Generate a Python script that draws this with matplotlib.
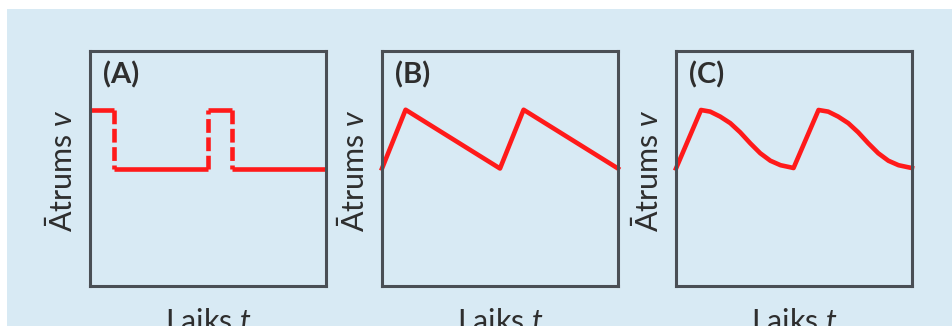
import matplotlib.pyplot as plt
from matplotlib.patches import Rectangle

plt.rcParams['font.family'] = ['Lato', 'DejaVu Sans']
plt.rcParams['mathtext.fontset'] = 'custom'
plt.rcParams['mathtext.rm'] = 'Lato'
plt.rcParams['mathtext.it'] = 'Lato:italic'

# dati nolasiti no attela (laiks 0..1, atrums 0..1)
ta = [0.0, 0.1, 0.1, 0.5, 0.5, 0.6, 0.6, 1.0]
va = [0.75, 0.75, 0.5, 0.5, 0.75, 0.75, 0.5, 0.5]

tb = [0.0, 0.1, 0.5, 0.6, 1.0]
vb = [0.5, 0.75, 0.5, 0.75, 0.5]

tc = [0.0, 0.106, 0.145, 0.187, 0.230, 0.272, 0.315, 0.357, 0.400, 0.443, 0.485, 0.498,
      0.604, 0.645, 0.687, 0.730, 0.772, 0.815, 0.857, 0.900, 0.943, 0.985, 1.0]
vc = [0.5, 0.749, 0.742, 0.721, 0.693, 0.654, 0.607, 0.565, 0.533, 0.514, 0.505, 0.502,
      0.749, 0.742, 0.721, 0.693, 0.654, 0.607, 0.565, 0.533, 0.514, 0.505, 0.502]

panel_labels = ['(A)', '(B)', '(C)']
ylabel = 'Ātrums $v$'
xlabel = 'Laiks $t$'

red = '#ff1a1a'
frame = '#4a4f55'
txt = '#2e2e2e'
bg = '#d8eaf4'

W, H = 952, 326
fig = plt.figure(figsize=(W / 100, H / 100), dpi=100)
fig.patches.append(Rectangle((7 / W, 0), 1, (H - 9) / H, transform=fig.transFigure,
                             facecolor=bg, edgecolor='none', zorder=-10))

lefts = [90, 382, 676]
axes = []
for l in lefts:
    ax = fig.add_axes([l / W, (H - 286) / H, 236 / W, 235 / H])
    ax.set_facecolor('none')
    ax.set_xlim(0, 1)
    ax.set_ylim(0, 1)
    ax.set_xticks([])
    ax.set_yticks([])
    for s in ax.spines.values():
        s.set_color(frame)
        s.set_linewidth(2.2)
    axes.append(ax)

lw = 3.3
# (A): horizontalie posmi pilni, vertikalie raustiti
ax = axes[0]
for i in range(0, len(ta) - 1):
    seg_t = ta[i:i + 2]
    seg_v = va[i:i + 2]
    if seg_t[0] == seg_t[1]:
        ax.plot(seg_t, seg_v, color=red, lw=lw, dashes=(3, 1), clip_on=False)
    else:
        ax.plot(seg_t, seg_v, color=red, lw=lw, solid_capstyle='butt', clip_on=False)

axes[1].plot(tb, vb, color=red, lw=lw, clip_on=False)
axes[2].plot(tc, vc, color=red, lw=lw, clip_on=False, solid_joinstyle='round')

for ax, lab in zip(axes, panel_labels):
    ax.text(0.055, 0.955, lab, transform=ax.transAxes, ha='left', va='top',
            fontsize=21, fontweight='bold', color=txt)
    ax.text(-0.125, 0.49, ylabel, transform=ax.transAxes, rotation=90,
            ha='center', va='center', fontsize=22, color=txt)
    ax.text(0.5, -0.095, xlabel, transform=ax.transAxes, ha='center', va='top',
            fontsize=22, color=txt)

fig.savefig('out.png', dpi=100)
